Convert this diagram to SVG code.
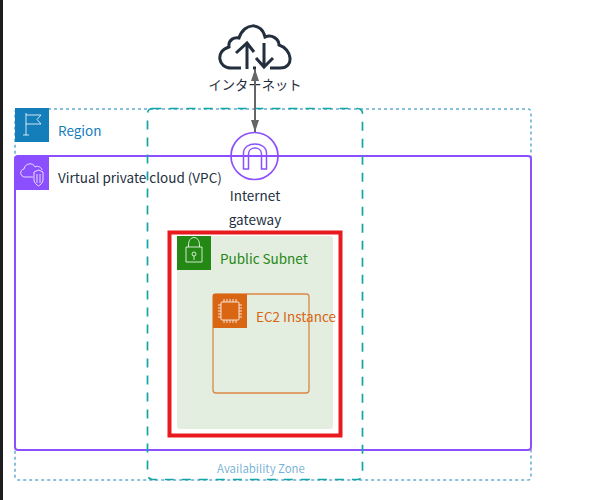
<svg xmlns="http://www.w3.org/2000/svg" width="598" height="500" viewBox="0 0 598 500">
<style>
text{font-family:"Noto Sans CJK JP","Noto Sans",sans-serif;font-size:13.500px}
.ic{fill:none;stroke:#fff;stroke-opacity:.8;stroke-width:1}
</style>
<defs>
<marker id="a" markerWidth="12" markerHeight="8" refX="12" refY="4" orient="auto-start-reverse" markerUnits="userSpaceOnUse" viewBox="0 0 12 8"><path d="M0 0L12 4L0 8z" fill="#666"/></marker>
</defs>
<rect width="598" height="500" fill="#fff"/>
<rect x="0" y="0" width="3" height="500" fill="#1e1e1e"/>
<g id="region">
<rect x="15" y="109" width="516" height="371" rx="3" fill="none" stroke="#147eba" stroke-opacity=".65" stroke-width="1.500" stroke-dasharray="3 3"/>
<rect x="15" y="108" width="34" height="34" fill="#147eba"/>
<path class="ic" d="M26 135V113M26 115H41L37 119.500L41 124H26M23 135H29"/>
<text x="58" y="136" fill="#147eba">Region</text>
</g>
<g id="vpc">
<rect x="15" y="156" width="516" height="294" rx="3" fill="none" stroke="#8c4fff" stroke-width="2"/>
<rect x="15" y="156" width="34" height="34" fill="#8c4fff"/>
<path class="ic" d="M33 177H25C20 177 19 170 24 169C25 163 33 162 35 167C38 165 42 168 42 170"/>
<path class="ic" d="M34 172L38.500 170L43 172V180C43 183 40 185 38.500 186C37 185 34 183 34 180ZM37 174V183M40 174V183"/>
<text x="58" y="183" fill="#232f3e">Virtual private cloud (VPC)</text>
</g>
<g id="az">
<rect x="147.500" y="108.500" width="215" height="371" rx="5" fill="none" stroke="#12a5a5" stroke-width="1.700" stroke-dasharray="9 8"/>
<text x="261" y="473" text-anchor="middle" fill="#147eba" fill-opacity=".6" style="font-size:11.400px">Availability Zone</text>
</g>
<g id="public-subnet">
<rect x="177" y="236" width="156" height="193" rx="3" fill="#e3ede0"/>
<rect x="177" y="236" width="34" height="34" fill="#248814"/>
<path class="ic" d="M186 247V262H202V247ZM188.500 247V245C188.500 235 199.500 235 199.500 245V247"/>
<circle class="ic" cx="194" cy="254" r="2"/><path class="ic" d="M194 256V260"/>
<text x="220" y="264" fill="#248814">Public Subnet</text>
</g>
<g id="ec2-instance">
<rect x="213" y="294" width="96" height="99" rx="3" fill="none" stroke="#d86613" stroke-opacity=".75" stroke-width="1.300"/>
<rect x="213" y="294" width="34" height="34" fill="#d86613"/>
<rect class="ic" x="221" y="302" width="18" height="18" rx="1" stroke-width="1.300"/>
<path class="ic" d="M224 299V302M227 299V302M230 299V302M233 299V302M236 299V302M224 320V323M227 320V323M230 320V323M233 320V323M236 320V323M218 305H221M218 308H221M218 311H221M218 314H221M218 317H221M239 305H242M239 308H242M239 311H242M239 314H242M239 317H242" stroke-width=".8"/>
<text x="256" y="322" fill="#d86613">EC2 Instance</text>
</g>
<rect id="highlight" x="169.500" y="232.500" width="171" height="203" fill="none" stroke="#e81a1d" stroke-width="4"/>
<g id="internet">
<path d="M241 68H231C218 68 215 51 229 47C228 39 235 37 239 38C244 22 262 22 265 37C272 34 279 39 279 45C292 49 295 68 280 68H270M253 68H256" fill="none" stroke="#232f3e" stroke-width="3"/>
<path d="M247 69V45M236 53L247 43L254 52M264 43V65M256 58L264 67L273 58" fill="none" stroke="#232f3e" stroke-width="3"/>
<text x="255" y="90" text-anchor="middle" fill="#232f3e" style="font-size:13.300px">インターネット</text>
</g>
<g id="internet-gateway">
<circle cx="254.500" cy="156" r="23.500" fill="none" stroke="#8c4fff" stroke-width="1.700"/>
<path d="M243.500 169V153C243.500 141 266.500 141 266.500 153V169H261.500V154C261.500 146 248.500 146 248.500 154V169Z" fill="none" stroke="#8c4fff" stroke-width="1.500"/>
<text x="255" y="201" text-anchor="middle" fill="#232f3e">Internet</text>
<text x="255" y="225" text-anchor="middle" fill="#232f3e">gateway</text>
</g>
<g id="connectors">
<path d="M255 69V132" fill="none" stroke="#666" stroke-width="2" marker-start="url(#a)" marker-end="url(#a)"/>
</g>
</svg>
